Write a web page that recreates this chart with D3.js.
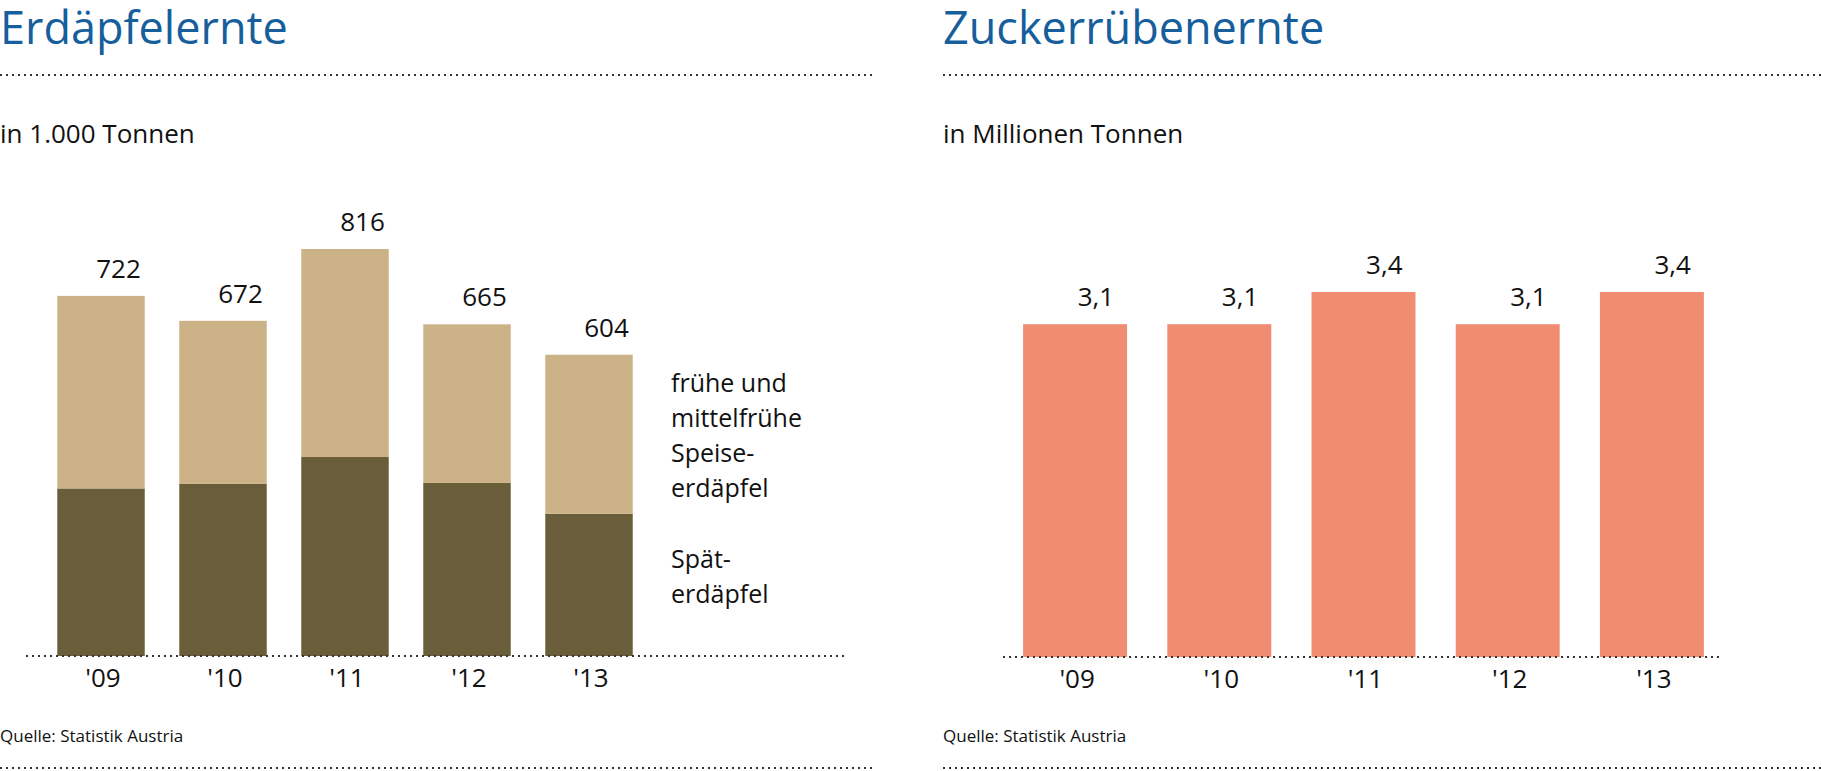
<!DOCTYPE html>
<html>
<head>
<meta charset="utf-8">
<script src="https://cdn.jsdelivr.net/npm/d3@7"></script>
<style>
  body { margin: 0; background: #fff; }
  text { font-family: "Open Sans", "Noto Sans", sans-serif; fill: #111; }
  .title { fill: #165f9c; font-size: 45px; }
  .sub { font-size: 26px; }
  .val { font-size: 26px; text-anchor: middle; }
  .xlab { font-size: 26px; text-anchor: middle; }
  .leg { font-size: 25px; }
  .src { font-size: 17px; }
  .dots { stroke: #333; stroke-width: 2; stroke-dasharray: 2,4; }
</style>
</head>
<body>
<svg id="chart" width="1821" height="771"></svg>
<script>
var years = ["'09", "'10", "'11", "'12", "'13"];
var spaet = [336, 345, 399, 347, 285];          // Späterdäpfel
var frueh = [386, 327, 417, 318, 319];          // frühe und mittelfrühe Speiseerdäpfel
var erdTotal = [722, 672, 816, 665, 604];
var zucker = [3.1, 3.1, 3.4, 3.1, 3.4];
var zuckerLabels = ["3,1", "3,1", "3,4", "3,1", "3,4"];

var svg = d3.select('#chart');
var colLate = '#6a5d3a', colEarly = '#cbb387', colSugar = '#f08c70';

function dotted(x1, x2, y) {
  svg.append('line').attr('class', 'dots')
    .attr('x1', x1).attr('x2', x2).attr('y1', y).attr('y2', y);
}

function header(x0, x1, title, sub) {
  svg.append('text').attr('class', 'title').attr('x', x0).attr('y', 44).text(title);
  dotted(x0, x1, 75);
  svg.append('text').attr('class', 'sub').attr('x', x0).attr('y', 143).text(sub);
  svg.append('text').attr('class', 'src').attr('x', x0).attr('y', 742).text('Quelle: Statistik Austria');
  dotted(x0, x1, 768);
}

// ---- Erdäpfelernte ----
header(0, 876, 'Erdäpfelernte', 'in 1.000 Tonnen');

var rows = years.map(function (y, i) { return {year: y, spaet: spaet[i], frueh: frueh[i], total: erdTotal[i]}; });
var stack = d3.stack().keys(['spaet', 'frueh'])(rows);

var x1 = d3.scaleBand().domain(years).range([40, 650]).paddingInner(0.283).paddingOuter(0.1415);
var y1 = d3.scaleLinear().domain([0, 816]).range([656, 249]);

var g1 = svg.append('g');
g1.selectAll('g.layer')
  .data(stack)
  .enter()
  .append('g')
  .attr('fill', function (d) { return d.key === 'spaet' ? colLate : colEarly; })
  .selectAll('rect')
  .data(function (d) { return d; })
  .enter()
  .append('rect')
  .attr('x', function (d) { return x1(d.data.year); })
  .attr('y', function (d) { return y1(d[1]); })
  .attr('width', x1.bandwidth())
  .attr('height', function (d) { return y1(d[0]) - y1(d[1]); });

g1.selectAll('text.val')
  .data(rows)
  .enter()
  .append('text')
  .attr('class', 'val')
  .attr('x', function (d) { return x1(d.year) + x1.bandwidth() * 0.7; })
  .attr('y', function (d) { return y1(d.total) - 18; })
  .text(function (d) { return d.total; });

dotted(26, 848, 656);
g1.selectAll('text.xlab')
  .data(years)
  .enter()
  .append('text')
  .attr('class', 'xlab')
  .attr('x', function (d) { return x1(d) + x1.bandwidth() / 2 + 2; })
  .attr('y', 687)
  .text(function (d) { return d; });

var legEarly = ['frühe und', 'mittelfrühe', 'Speise-', 'erdäpfel'];
var legLate = ['Spät-', 'erdäpfel'];
legEarly.forEach(function (t, i) {
  svg.append('text').attr('class', 'leg').attr('x', 671).attr('y', 392 + i * 35).text(t);
});
legLate.forEach(function (t, i) {
  svg.append('text').attr('class', 'leg').attr('x', 671).attr('y', 568 + i * 35).text(t);
});

// ---- Zuckerrübenernte ----
header(943, 1821, 'Zuckerrübenernte', 'in Millionen Tonnen');

var x2 = d3.scaleBand().domain(years).range([1003, 1724]).paddingInner(0.279).paddingOuter(0.1395);
var y2 = d3.scaleLinear().domain([0, 3.4]).range([657, 292]);

var g2 = svg.append('g');
g2.selectAll('rect')
  .data(zucker)
  .enter()
  .append('rect')
  .attr('x', function (d, i) { return x2(years[i]); })
  .attr('y', function (d) { return y2(d); })
  .attr('width', x2.bandwidth())
  .attr('height', function (d) { return y2(0) - y2(d); })
  .attr('fill', colSugar);

g2.selectAll('text.val')
  .data(zucker)
  .enter()
  .append('text')
  .attr('class', 'val')
  .attr('x', function (d, i) { return x2(years[i]) + x2.bandwidth() * 0.7; })
  .attr('y', function (d) { return y2(d) - 18; })
  .text(function (d, i) { return zuckerLabels[i]; });

dotted(1003, 1721, 657);
g2.selectAll('text.xlab')
  .data(years)
  .enter()
  .append('text')
  .attr('class', 'xlab')
  .attr('x', function (d) { return x2(d) + x2.bandwidth() / 2 + 2; })
  .attr('y', 688)
  .text(function (d) { return d; });
</script>
</body>
</html>
